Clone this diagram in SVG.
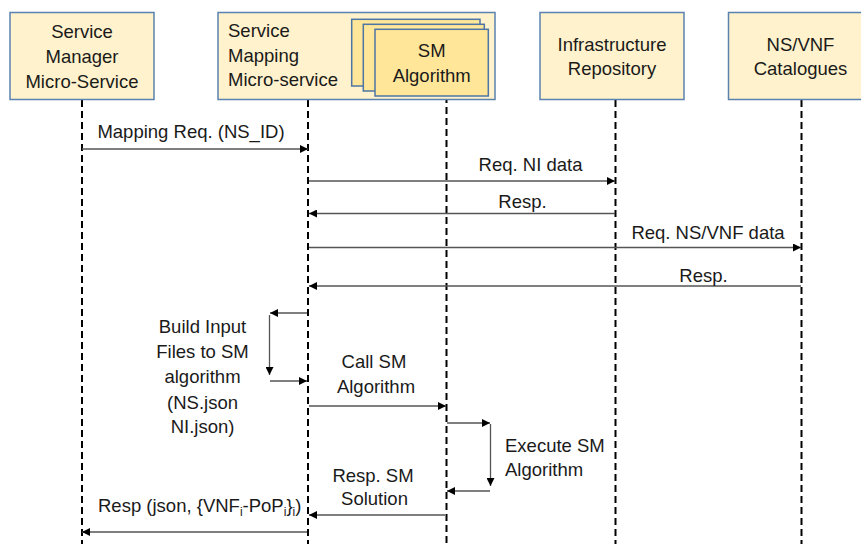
<svg xmlns="http://www.w3.org/2000/svg" width="861" height="544" viewBox="0 0 861 544">
<style>
  text { font-family: "Liberation Sans", Arial, sans-serif; font-size: 18.5px; fill: #1a1a1a; }
  .mid { text-anchor: middle; }
  .box { fill: #FFF2CC; stroke: #5B82AE; stroke-width: 1.5; }
  .alg { fill: #FFE699; stroke: #4E76A3; stroke-width: 1.5; }
  .life { stroke: #000; stroke-width: 2; stroke-dasharray: 7 4; fill: none; }
  .msg { stroke: #555; stroke-width: 1.3; fill: none; marker-end: url(#ah); }
</style>
<defs>
  <marker id="ah" markerUnits="userSpaceOnUse" markerWidth="9" markerHeight="8" refX="8" refY="4" orient="auto">
    <path d="M0,0 L8,4 L0,8 z" fill="#000"/>
  </marker>
</defs>
<rect width="861" height="544" fill="#fff"/>

<g id="lifelines">
  <line class="life" x1="82" y1="100" x2="82" y2="544"/>
  <line class="life" x1="308" y1="100" x2="308" y2="544"/>
  <line class="life" x1="446.5" y1="96" x2="446.5" y2="544"/>
  <line class="life" x1="615.5" y1="100" x2="615.5" y2="544"/>
  <line class="life" x1="801.5" y1="100" x2="801.5" y2="544"/>
</g>

<g id="service-manager">
  <rect class="box" x="10" y="12.5" width="144" height="87"/>
  <text class="mid" x="82" y="38">Service</text>
  <text class="mid" x="82" y="63">Manager</text>
  <text class="mid" x="82" y="88">Micro-Service</text>
</g>

<g id="service-mapping">
  <rect class="box" x="218" y="12.5" width="277" height="87"/>
  <text x="228" y="37">Service</text>
  <text x="228" y="62">Mapping</text>
  <text x="228" y="86">Micro-service</text>
</g>

<g id="sm-algorithm">
  <rect class="alg" x="351.7" y="19.3" width="128.3" height="66.7"/>
  <rect class="alg" x="363.3" y="24.3" width="121" height="66.7"/>
  <rect class="alg" x="375" y="29.3" width="113.3" height="66.7"/>
  <text class="mid" x="431.7" y="57">SM</text>
  <text class="mid" x="431.7" y="82">Algorithm</text>
</g>

<g id="infrastructure-repository">
  <rect class="box" x="540" y="12.5" width="144" height="87"/>
  <text class="mid" x="612" y="51">Infrastructure</text>
  <text class="mid" x="612" y="75">Repository</text>
</g>

<g id="nsvnf-catalogues">
  <rect class="box" x="728.5" y="12.5" width="146" height="87"/>
  <text class="mid" x="800.5" y="51">NS/VNF</text>
  <text class="mid" x="800.5" y="75">Catalogues</text>
</g>

<g id="connectors">
  <path class="msg" d="M82,149 H308"/>
  <path class="msg" d="M309,181 H615"/>
  <path class="msg" d="M615,213.5 H309"/>
  <path class="msg" d="M309,247.5 H801"/>
  <path class="msg" d="M801,286 H309"/>
  <path class="msg" d="M307,313 H270"/>
  <path class="msg" d="M269.5,315 V375"/>
  <path class="msg" d="M270,381 H307"/>
  <path class="msg" d="M309,406 H446"/>
  <path class="msg" d="M447,423 H490"/>
  <path class="msg" d="M490.5,424 V486"/>
  <path class="msg" d="M490,491 H447"/>
  <path class="msg" d="M445,515 H309"/>
  <path class="msg" d="M307,532 H82"/>
</g>

<g id="labels">
  <text class="mid" x="191" y="138">Mapping Req. (NS_ID)</text>
  <text class="mid" x="530.5" y="170.5">Req. NI data</text>
  <text class="mid" x="522.5" y="208">Resp.</text>
  <text class="mid" x="708" y="239">Req. NS/VNF data</text>
  <text class="mid" x="703.5" y="281.5">Resp.</text>
  <text class="mid" x="202.5" y="333">Build Input</text>
  <text class="mid" x="202.5" y="358">Files to SM</text>
  <text class="mid" x="202.5" y="383">algorithm</text>
  <text class="mid" x="202.5" y="408.5">(NS.json</text>
  <text class="mid" x="202.5" y="433">NI.json)</text>
  <text class="mid" x="374" y="368">Call SM</text>
  <text class="mid" x="376" y="392.5">Algorithm</text>
  <text x="505" y="452">Execute SM</text>
  <text x="505" y="475.5">Algorithm</text>
  <text class="mid" x="373" y="481.5">Resp. SM</text>
  <text class="mid" x="374.5" y="505">Solution</text>
  <text x="98" y="511.5">Resp (json, {VNF<tspan font-size="12" dy="4">i</tspan><tspan dy="-4">-PoP</tspan><tspan font-size="12" dy="4">i</tspan><tspan dy="-4">}</tspan><tspan font-size="12" dy="4">i</tspan><tspan dy="-4">)</tspan></text>
</g>
</svg>
